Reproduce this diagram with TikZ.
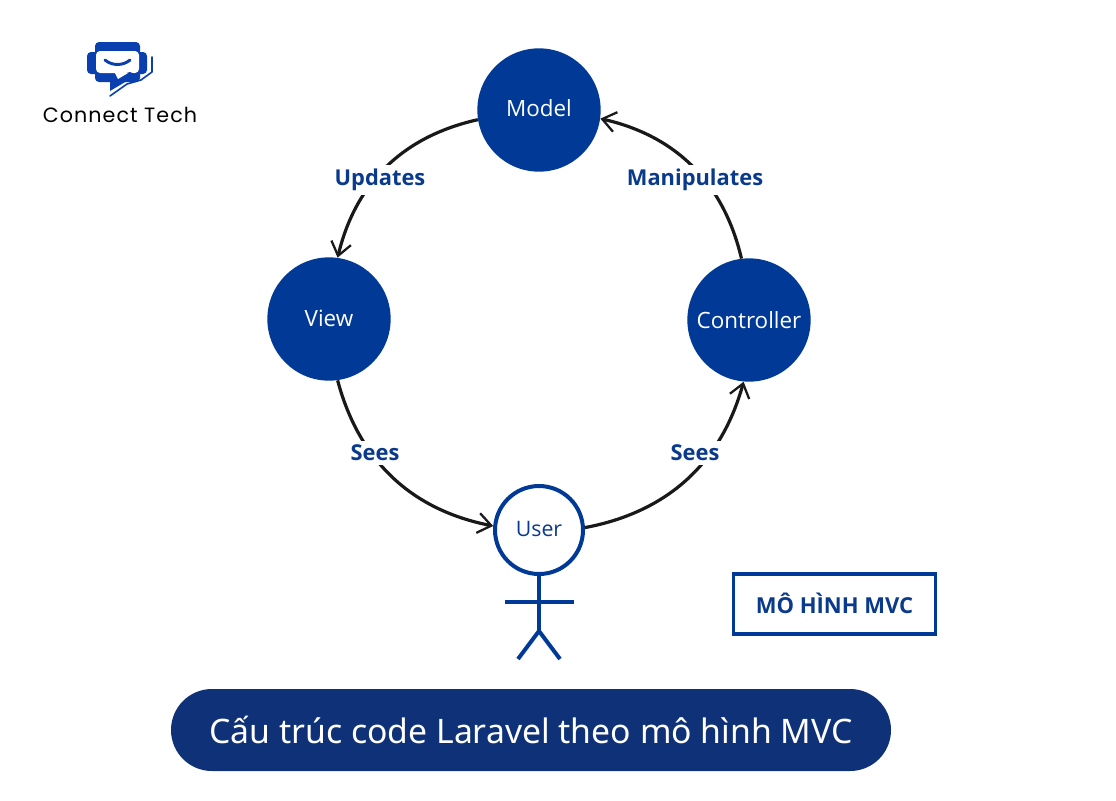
\documentclass[tikz,border=0pt]{standalone}
\usepackage{fontspec}
\setmainfont{Open Sans}
\newfontfamily\pillfont{Noto Sans}
\newfontfamily\logofont[LetterSpace=5]{Poppins}
\usetikzlibrary{arrows.meta}
\definecolor{mvcblue}{HTML}{003A96}
\definecolor{labelblue}{HTML}{0A3A8C}
\definecolor{pillblue}{HTML}{0E3178}
\definecolor{logoblue}{HTML}{0A3FB0}
\tikzset{
 x=0.75pt,y=-0.75pt,
 disc/.style={circle,fill=mvcblue,minimum size=92.5pt,inner sep=0pt,text=white,font=\fontsize{16.8}{18}\selectfont},
 flow/.style={draw=black!90,line width=2.4pt,-{Straight Barb[length=10pt,width=15pt,line width=1.7pt]}},
 flowlabel/.style={fill=white,text=labelblue,inner sep=3pt,font=\fontsize{16.4}{18}\selectfont\bfseries},
 stick/.style={draw=mvcblue,line width=3pt},
}
\begin{document}
\begin{tikzpicture}
\useasboundingbox (0,0) rectangle (1116,800);
\fill[white] (0,0) rectangle (1116,800);
% logo
\fill[logoblue,rounded corners=3pt] (95,42) rectangle (140,82);
\fill[logoblue,rounded corners=3pt] (87,52) rectangle (147,74);
\fill[white,rounded corners=3pt] (96,51) rectangle (139,73);
\fill[logoblue] (110,78) -- (110,91) -- (137,75) -- (130,72) -- cycle;
\fill[white] (115,73) -- (128,73) -- (118,79) -- cycle;
\draw[logoblue,line width=1.2pt,line cap=round,line join=round] (152,57) -- (152,72) -- (141,80) -- (127,84) -- (110,96);
\draw[logoblue,line width=2.2pt,line cap=round] (105,60) .. controls (112,66) and (123,66) .. (130,60);
\node[font=\fontsize{15.5}{16}\selectfont\logofont,inner sep=0pt] (logotext) at (120,114.5) {Connect Tech};
% discs
\node[disc] (model) at (539,110) {\raisebox{3.4pt}{Model}};
\node[disc] (view) at (329,319) {\raisebox{1.2pt}{View}};
\node[disc] (controller) at (749,320) {Controller};
\node[circle,draw=mvcblue,line width=3pt,fill=white,minimum size=66pt,inner sep=0pt,text=labelblue,font=\fontsize{16}{18}\selectfont] (user) at (539,530) {\raisebox{2.2pt}{User}};
% connectors
\draw[flow] (model.189) to[bend right=32] (view.82);
\draw[flow] (view.-82) to[bend right=32] (user.175);
\draw[flow] (user.3) to[bend right=32] (controller.-95);
\draw[flow] (controller.97) to[bend right=32] (model.-8);
\node[flowlabel] (updates) at (380,180) {Updates};
\node[flowlabel] (manip) at (695,180) {Manipulates};
\node[flowlabel] (seesl) at (375,453) {Sees};
\node[flowlabel] (seesr) at (695,453) {Sees};
% stick figure
\coordinate (hip) at (539,631);
\coordinate (lfoot) at (518,659);
\coordinate (rfoot) at (560,659);
\coordinate (larm) at (505,602);
\coordinate (rarm) at (574,602);
\draw[stick] (user.south) -- (hip);
\draw[stick] (larm) -- (rarm);
\draw[stick] (lfoot) -- (hip) -- (rfoot);
% box
\node[draw=mvcblue,line width=2.4pt,minimum width=151pt,minimum height=45pt,inner sep=0pt,text=labelblue,font=\fontsize{16.5}{18}\selectfont\bfseries] (mvcbox) at (834.5,604) {\raisebox{1.2pt}{MÔ HÌNH MVC}};
% pill
\node[fill=pillblue,rounded corners=30.7pt,minimum width=540pt,minimum height=61.5pt,inner sep=0pt,text=white,font=\pillfont\fontsize{25.3}{28}\selectfont] (pill) at (531,730) {\raisebox{0.8pt}{Cấu trúc code Laravel theo mô hình MVC}};
\end{tikzpicture}
\end{document}
